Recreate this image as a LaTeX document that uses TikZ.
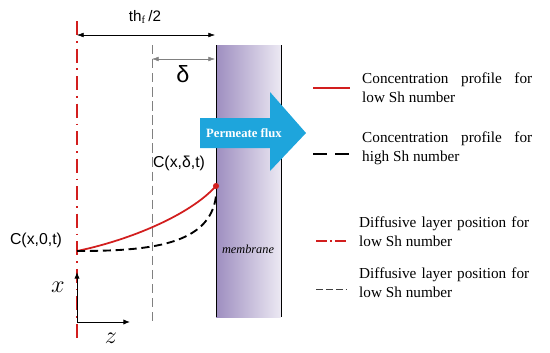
\documentclass[tikz,border=0pt]{standalone}
\usepackage{fontspec}
\setmainfont{Liberation Serif}
\newfontfamily\labelfont{Liberation Sans}
\usetikzlibrary{arrows.meta}
\definecolor{profred}{RGB}{210,30,30}
\definecolor{fluxblue}{RGB}{30,165,220}
\definecolor{memdark}{RGB}{158,142,192}
\definecolor{memlight}{RGB}{236,233,243}
\tikzset{
	legtext/.style={anchor=west, inner sep=0pt, align=justify, text width=5.1cm, font=\fontsize{13}{16.2}\selectfont},
	dimline/.style={{Latex[length=2mm,width=1.4mm]}-{Latex[length=2mm,width=1.4mm]}, thin},
	clabel/.style={font=\labelfont\fontsize{13.5}{15}\selectfont},
}
\begin{document}
\begin{tikzpicture}[x=0.03cm, y=-0.03cm]
	\useasboundingbox (0,0) rectangle (550,352);
	% membrane
	\shade[left color=memdark, right color=memlight] (216,45) rectangle (281,317);
	\draw[thick] (216,45)--(216,317);
	\draw[thick] (281,45)--(281,317);
	\node[font=\itshape\fontsize{10.5}{12}\selectfont] (mem) at (248,249) {membrane};
	% diffusive layers
	\coordinate (redtop) at (77,21);
	\coordinate (redbot) at (77,340);
	\draw[profred, line width=1.6pt, dash pattern=on 12pt off 5pt on 1.5pt off 5pt] (redtop)--(redbot);
	\coordinate (graytop) at (152,45);
	\coordinate (graybot) at (152,325);
	\draw[gray, thick, dash pattern=on 8pt off 4pt] (graytop)--(graybot);
	% dimensions
	\coordinate (thl) at (77,35);
	\coordinate (thr) at (215,35);
	\draw[dimline] (thl)--(thr);
	\node[font=\labelfont\fontsize{13}{15}\selectfont] (th) at (145,17) {th$_{\mathrm{f}}$\,/2};
	\coordinate (dl) at (152,59);
	\coordinate (dr) at (215,59);
	\draw[dimline, gray] (dl)--(dr);
	\node[font=\labelfont\fontsize{20}{22}\selectfont] (delta) at (183,74) {δ};
	% permeate flux
	\draw[fill=fluxblue, draw=none] (200,118)--(270,118)--(270,92)--(306,133)--(270,171)--(270,148)--(200,148)--cycle;
	\node[white, font=\bfseries\fontsize{10.8}{12}\selectfont] (flux) at (244,133) {Permeate flux};
	% profiles
	\coordinate (c0) at (77,251);
	\coordinate (cd) at (216,186);
	\draw[profred, line width=1.5pt] (c0) .. controls (130,240) and (190,215) .. (cd);
	\draw[line width=1.6pt, dash pattern=on 7pt off 4pt] (c0) .. controls (150,251) and (210,245) .. (216,196);
	\fill[profred] (cd) circle (2.6pt);
	\node[clabel] (lcd) at (179,163) {C(x,δ,t)};
	\node[clabel] (lc0) at (36,240) {C(x,0,t)};
	% axes
	\coordinate (o) at (77,322);
	\coordinate (xend) at (77,272);
	\coordinate (zend) at (130,322);
	\draw[thick, -{Latex[length=2mm,width=1.6mm]}] (o)--(xend);
	\draw[thick, -{Latex[length=2mm,width=1.6mm]}] (o)--(zend);
	\node[font=\fontsize{21}{22}\selectfont] (xlab) at (58,287) {$x$};
	\node[font=\fontsize{21}{22}\selectfont] (zlab) at (111,338) {$z$};
	% legend
	\draw[profred, line width=1.5pt] (313,88)--(350,88);
	\node[legtext] (leg1) at (362,88) {Concentration profile for\linebreak low Sh number};
	\draw[line width=2.2pt, dash pattern=on 12pt off 7pt] (313,154)--(350,154);
	\node[legtext] (leg2) at (362,148) {Concentration profile for\linebreak high Sh number};
	\draw[profred, line width=1.4pt, dash pattern=on 9pt off 3pt on 1.5pt off 3pt] (316,241)--(346,241);
	\node[legtext] (leg3) at (359,232) {Diffusive layer position for\linebreak low Sh number};
	\draw[darkgray, line width=0.8pt, dash pattern=on 6pt off 2.5pt] (316,289)--(346,289);
	\node[legtext] (leg4) at (359,283) {Diffusive layer position for\linebreak low Sh number};
\end{tikzpicture}
\end{document}
